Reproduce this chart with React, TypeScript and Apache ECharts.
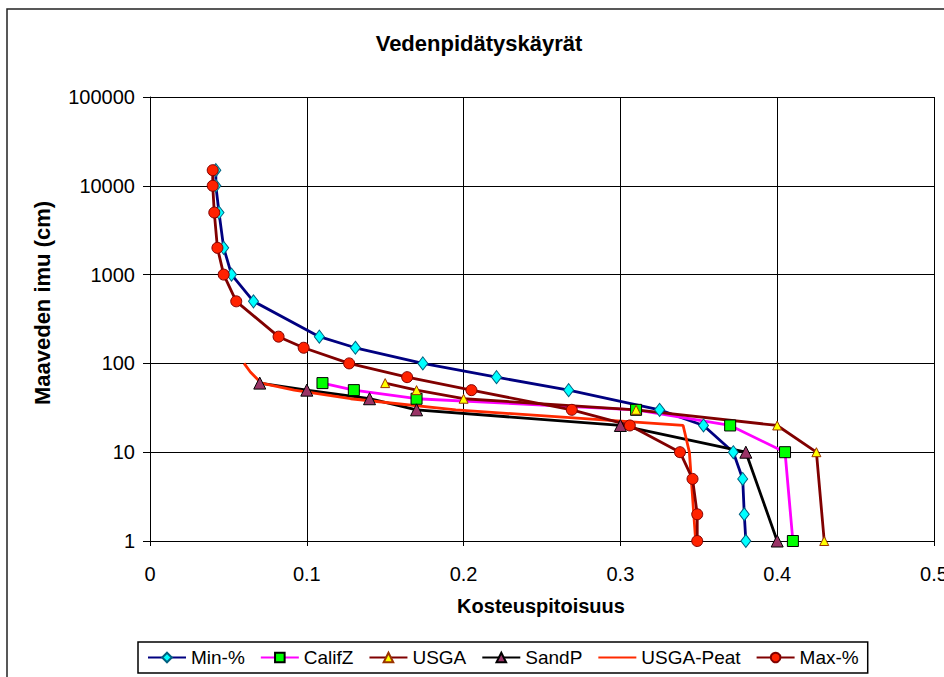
import React, { useEffect, useRef } from "react";
import * as echarts from "echarts";

// Suction levels (cm) and measured moisture contents per soil mix
const suctionFull = [15000, 10000, 5000, 2000, 1000, 500, 200, 150, 100, 70, 50, 30, 20, 10, 5, 2, 1];
const minPct = [0.042, 0.042, 0.044, 0.047, 0.052, 0.066, 0.108, 0.131, 0.174, 0.221, 0.267, 0.325, 0.353, 0.372, 0.378, 0.379, 0.38];
const maxPct = [0.04, 0.04, 0.041, 0.043, 0.047, 0.055, 0.082, 0.098, 0.127, 0.164, 0.205, 0.269, 0.306, 0.338, 0.346, 0.349, 0.349];

const suctionLow = [60, 50, 40, 30, 20, 10, 1];
const califZ = [0.11, 0.13, 0.17, 0.31, 0.37, 0.405, 0.41];
const usga = [0.15, 0.17, 0.2, 0.31, 0.4, 0.425, 0.43];
const sandP = [0.07, 0.1, 0.14, 0.17, 0.3, 0.38, 0.4];

const peatSuction = [100, 80, 60, 50, 40, 30, 20, 10, 1];
const usgaPeat = [0.06, 0.064, 0.071, 0.092, 0.128, 0.195, 0.34, 0.344, 0.348];

const xTicks = [0, 0.1, 0.2, 0.3, 0.4, 0.5];
const yTicks = [1, 10, 100, 1000, 10000, 100000];

const FONT = "'Liberation Sans', Arial, sans-serif";

const pairs = (xs: number[], ys: number[]) => xs.map((x, i) => [x, ys[i]]);

export default function App() {
  const ref = useRef<HTMLDivElement>(null);

  useEffect(() => {
    if (!ref.current) return;
    const chart = echarts.init(ref.current, null, { renderer: "svg" });

    const lineSeries = (
      name: string,
      data: number[][],
      lineColor: string,
      symbol: string,
      symbolSize: number | number[],
      fill: string,
      border: string
    ) => ({
      name,
      type: "line",
      data,
      symbol,
      symbolSize,
      showSymbol: symbol !== "none",
      lineStyle: { color: lineColor, width: 2.8 },
      itemStyle: { color: fill, borderColor: border, borderWidth: 1 },
      emphasis: { disabled: true },
    });

    chart.setOption({
      animation: false,
      backgroundColor: "#ffffff",
      textStyle: { fontFamily: FONT },
      grid: {
        left: 150,
        top: 97,
        width: 784,
        height: 444,
        containLabel: false,
        outerBoundsMode: "none",
      },
      xAxis: {
        type: "value",
        min: xTicks[0],
        max: xTicks[xTicks.length - 1],
        interval: 0.1,
        axisLine: { show: true, lineStyle: { color: "#000", width: 1 } },
        axisTick: { show: true, length: 5, lineStyle: { color: "#000" } },
        splitLine: { show: true, lineStyle: { color: "#000", width: 1 } },
        axisLabel: {
          color: "#000",
          fontSize: 20,
          fontFamily: FONT,
          margin: 23,
          formatter: (v: number) => String(Math.round(v * 10) / 10),
        },
      },
      yAxis: {
        type: "log",
        logBase: 10,
        min: yTicks[0],
        max: yTicks[yTicks.length - 1],
        axisLine: { show: true, onZero: false, lineStyle: { color: "#000", width: 1 } },
        axisTick: { show: true, length: 7, lineStyle: { color: "#000" } },
        minorTick: { show: false },
        splitLine: { show: true, lineStyle: { color: "#000", width: 1 } },
        axisLabel: {
          color: "#000",
          fontSize: 20,
          fontFamily: FONT,
          margin: 15,
          formatter: (v: number) => String(Math.round(v)),
        },
      },
      legend: {
        left: 138,
        top: 642,
        orient: "horizontal",
        itemWidth: 38,
        itemHeight: 12,
        itemGap: 15,
        padding: [6, 9],
        borderColor: "#000",
        borderWidth: 1.5,
        backgroundColor: "#fff",
        textStyle: { fontSize: 19, color: "#000", fontFamily: FONT },
        data: [
          "Min-%",
          "CalifZ",
          "USGA",
          "SandP",
          { name: "USGA-Peat", itemStyle: { opacity: 0 } },
          "Max-%",
        ],
      },
      graphic: [
        {
          type: "rect",
          shape: { x: 7, y: 9, width: 1200, height: 1200 },
          style: { fill: "none", stroke: "#222", lineWidth: 1.5 },
          silent: true,
          z: -1,
        },
        {
          type: "text",
          x: 479,
          y: 43,
          style: {
            text: "Vedenpidätyskäyrät",
            fontSize: 22,
            fontWeight: "bold",
            fontFamily: FONT,
            fill: "#000",
            align: "center",
            verticalAlign: "middle",
          },
        },
        {
          type: "text",
          x: 541,
          y: 606,
          style: {
            text: "Kosteuspitoisuus",
            fontSize: 20,
            fontWeight: "bold",
            fontFamily: FONT,
            fill: "#000",
            align: "center",
            verticalAlign: "middle",
          },
        },
        {
          type: "text",
          x: 42,
          y: 303,
          rotation: Math.PI / 2,
          style: {
            text: "Maaveden imu (cm)",
            fontSize: 22,
            fontWeight: "bold",
            fontFamily: FONT,
            fill: "#000",
            align: "center",
            verticalAlign: "middle",
          },
        },
      ],
      series: [
        lineSeries("Min-%", pairs(minPct, suctionFull), "#000080", "diamond", [10, 13], "#00FFFF", "#006080"),
        lineSeries("CalifZ", pairs(califZ, suctionLow), "#FF00FF", "rect", 11, "#00FF00", "#000000"),
        lineSeries("USGA", pairs(usga, suctionLow), "#800000", "triangle", 9, "#FFFF00", "#993300"),
        lineSeries("SandP", pairs(sandP, suctionLow), "#000000", "triangle", 12, "#993366", "#000000"),
        lineSeries("USGA-Peat", pairs(usgaPeat, peatSuction), "#FF2A00", "none", 0, "#FF2A00", "#FF2A00"),
        lineSeries("Max-%", pairs(maxPct, suctionFull), "#800000", "circle", 11, "#FF2200", "#800000"),
      ],
    });

    return () => chart.dispose();
  }, []);

  return (
    <div
      ref={ref}
      style={{ position: "fixed", left: 0, top: 0, width: 944, height: 677, background: "#fff" }}
    />
  );
}
